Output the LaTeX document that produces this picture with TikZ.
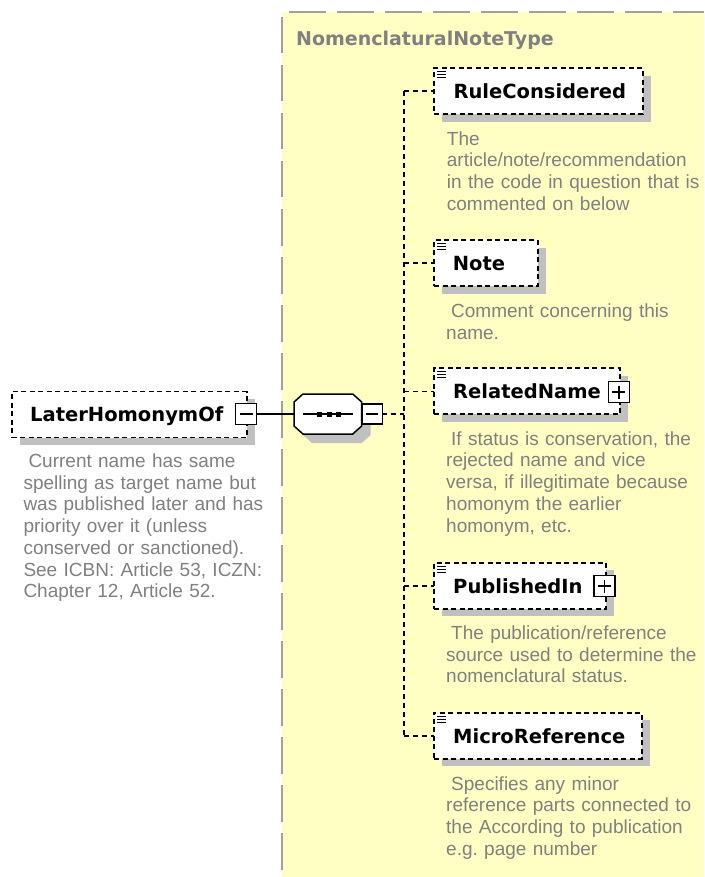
\documentclass[tikz,border=0pt]{standalone}
\usepackage{fontspec}
\setmainfont{Liberation Sans}
\newfontfamily\dvs{DejaVu Sans}
\usetikzlibrary{shadows}
\definecolor{ybg}{RGB}{255,255,196}
\definecolor{bordc}{RGB}{160,160,160}
\definecolor{shc}{RGB}{192,192,192}
\definecolor{descc}{RGB}{128,128,128}
\definecolor{titlec}{RGB}{128,128,128}
\frenchspacing
\begin{document}
\begin{tikzpicture}[x=1pt,y=-1pt,
  namebox/.style={draw=black, line width=1.8pt, dash pattern=on 5pt off 3.5pt, fill=white,
    rectangle, inner sep=0pt, outer sep=0pt, minimum height=46pt, anchor=north west,
    drop shadow={shadow xshift=8pt, shadow yshift=-7.5pt, fill=shc, opacity=1}},
  nametext/.style={font=\dvs\bfseries\fontsize{19.5}{23}\selectfont, anchor=base west, inner sep=0pt},
  desc/.style={font=\frenchspacing\fontsize{19}{21.7}\selectfont, text=descc, anchor=north west,
    inner sep=0pt, text width=320pt, align=left},
  pmbox/.style={draw=black, line width=1.3pt, fill=white, minimum width=21pt,
    minimum height=21pt, inner sep=0pt, outer sep=0pt},
  conn/.style={line width=1.6pt, dash pattern=on 5pt off 4pt},
  link/.style={line width=1.5pt},
  icon/.style={line width=1.1pt},
  bord/.style={draw=bordc, line width=2.2pt, dash pattern=on 36.5pt off 11.5pt}
]
\useasboundingbox (0,0) rectangle (704,877);
\fill[white] (0,0) rectangle (704,877);
% type area
\fill[ybg] (281.7,11.7) rectangle (704,877);
\draw[bord] (281.7,17) -- (281.7,870);
\draw[bord] (289.3,11.7) -- (704,11.7);
\node[font=\dvs\bfseries\fontsize{19}{23}\selectfont, text=titlec, anchor=base west, inner sep=0pt]
  (title) at (296,45.7) {NomenclaturalNoteType};

% element boxes
\node[namebox, minimum width=235pt] (lho) at (11.7,391.5) {};
\node[namebox, minimum width=208.7pt] (rc) at (434,68.3) {};
\node[namebox, minimum width=103.7pt] (note) at (434,240) {};
\node[namebox, minimum width=186pt] (rn) at (434,368.3) {};
\node[namebox, minimum width=172pt] (pi) at (434,562.7) {};
\node[namebox, minimum width=207.7pt] (mr) at (434,712.7) {};

% compositor
\node[draw=none, minimum width=67.7pt, minimum height=40pt, inner sep=0pt, outer sep=0pt,
  anchor=north west] (comp) at (294,394) {};
\fill[shc] (312,403) -- (361.7,403) -- (370.7,411) -- (370.7,435) -- (361.7,443)
  -- (312,443) -- (303,435) -- (303,411) -- cycle;
\filldraw[fill=white, draw=black, line width=1.5pt] (303,394) -- (352.7,394) -- (361.7,402)
  -- (361.7,426) -- (352.7,434) -- (303,434) -- (294,426) -- (294,402) -- cycle;
\draw[line width=1.5pt] (303,414) -- (353,414);
\foreach \cx in {319.2,329.2,338.7}
  \fill (\cx-2.5,411.5) rectangle (\cx+2.5,416.5);
\node[pmbox, minimum width=20pt, minimum height=20pt] (compm) at (372.2,414) {};
\draw[link] ([xshift=4pt]compm.west) -- ([xshift=-4pt]compm.east);

% plus / minus boxes
\node[pmbox] (lhom) at (246.3,414) {};
\draw[link] ([xshift=4pt]lhom.west) -- ([xshift=-4pt]lhom.east);
\node[pmbox] (rnp) at (618.8,392) {};
\draw[link] ([xshift=4pt]rnp.west) -- ([xshift=-4pt]rnp.east);
\draw[link] ([yshift=-4pt]rnp.north) -- ([yshift=4pt]rnp.south);
\node[pmbox] (pip) at (604.5,586) {};
\draw[link] ([xshift=4pt]pip.west) -- ([xshift=-4pt]pip.east);
\draw[link] ([yshift=-4pt]pip.north) -- ([yshift=4pt]pip.south);

% connectors
\coordinate (spx) at (404,0);
\draw[link] (lhom.east) -- (comp.west);
\draw[conn] (compm.east) -- (compm.east -| spx);
\draw[conn] (rc.west -| spx) -- (mr.west -| spx);
\foreach \n in {rc,note,rn,pi,mr}
  \draw[conn] (\n.west -| spx) -- (\n.west);

% icons
\foreach \n in {rc,note,rn,pi,mr}
  \foreach \d in {3.5,6.5,9.5}
    \draw[icon] ([shift={(3,\d)}]\n.north west) -- ([shift={(12,\d)}]\n.north west);

% names
\node[nametext] (lhot) at (30,421.5) {LaterHomonymOf};
\node[nametext] (rct) at (453.3,98.8) {RuleConsidered};
\node[nametext] (notet) at (452.7,270.5) {Note};
\node[nametext] (rnt) at (453,398.8) {RelatedName};
\node[nametext] (pit) at (453,593.2) {PublishedIn};
\node[nametext] (mrt) at (453,743.2) {MicroReference};

% descriptions
\node[desc] (lhod) at (23.3,452.3) {\rule{0pt}{15pt}\hspace*{5pt}Current name has same\\
spelling as target name but\\was published later and has\\priority over it (unless\\
conserved or sanctioned).\\See ICBN: Article 53, ICZN:\\Chapter 12, Article 52.};
\node[desc] (rcd) at (446.7,130) {\rule{0pt}{15pt}The\\article/note/recommendation\\
in the code in question that is\\commented on below};
\node[desc] (noted) at (446,302.3) {\rule{0pt}{15pt}\hspace*{5pt}Comment concerning this\\name.};
\node[desc] (rnd) at (446,430) {\rule{0pt}{15pt}\hspace*{5pt}If status is conservation, the\\
rejected name and vice\\versa, if illegitimate because\\homonym the earlier\\homonym, etc.};
\node[desc] (pid) at (446,624.3) {\rule{0pt}{15pt}\hspace*{5pt}The publication/reference\\
source used to determine the\\nomenclatural status.};
\node[desc] (mrd) at (446,775) {\rule{0pt}{15pt}\hspace*{5pt}Specifies any minor\\
reference parts connected to\\the According to publication\\e.g.\ page number};
\end{tikzpicture}
\end{document}
